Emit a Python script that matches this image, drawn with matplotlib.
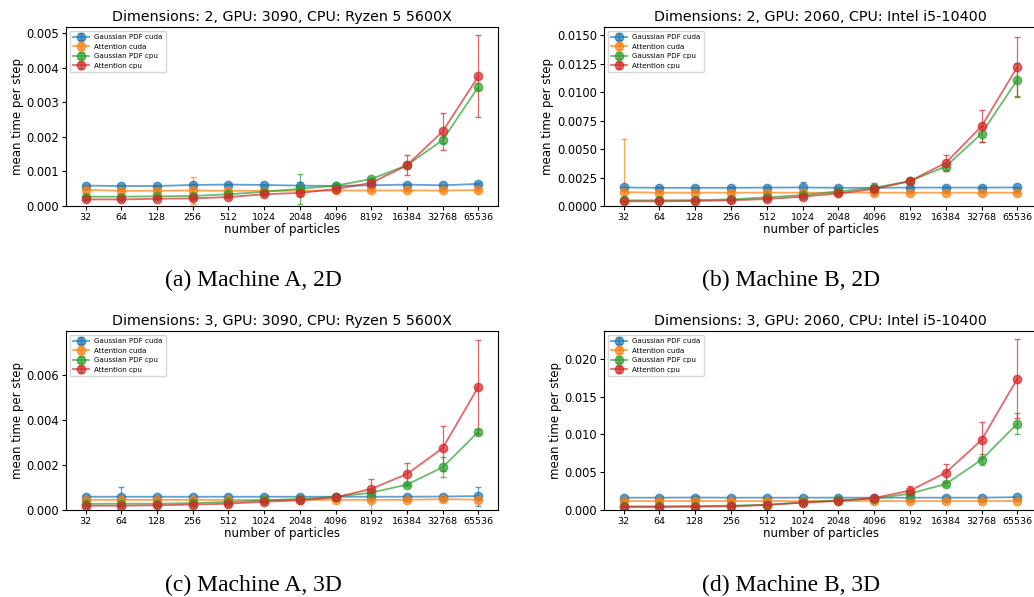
import matplotlib
matplotlib.use('Agg')
from matplotlib import pyplot as plt

particles = ['32', '64', '128', '256', '512', '1024', '2048', '4096',
             '8192', '16384', '32768', '65536']
series_names = ['Gaussian PDF cuda', 'Attention cuda', 'Gaussian PDF cpu', 'Attention cpu']

titles = ['Dimensions: 2, GPU: 3090, CPU: Ryzen 5 5600X',
          'Dimensions: 2, GPU: 2060, CPU: Intel i5-10400',
          'Dimensions: 3, GPU: 3090, CPU: Ryzen 5 5600X',
          'Dimensions: 3, GPU: 2060, CPU: Intel i5-10400']
captions = ['(a) Machine A, 2D', '(b) Machine B, 2D',
            '(c) Machine A, 3D', '(d) Machine B, 3D']

# Machine A, 2D
blue_a = [0.00059, 0.00058, 0.00058, 0.00061, 0.00062, 0.00061, 0.00059, 0.00058, 0.00060, 0.00062, 0.00060, 0.00064]
blue_a_err = [0.00002, 0.00002, 0.00002, 0.00003, 0.00002, 0.00002, 0.00010, 0.00002, 0.00002, 0.00002, 0.00002, 0.00003]
orange_a = [0.00047, 0.00044, 0.00044, 0.00045, 0.00044, 0.00044, 0.00044, 0.00045, 0.00045, 0.00045, 0.00045, 0.00046]
orange_a_err = [0.00002, 0.00002, 0.00002, 0.00040, 0.00002, 0.00002, 0.00002, 0.00002, 0.00002, 0.00002, 0.00002, 0.00002]
green_a = [0.00027, 0.00027, 0.00028, 0.00029, 0.00034, 0.00041, 0.00050, 0.00059, 0.00078, 0.00118, 0.00191, 0.00345]
green_a_err = [0.00002, 0.00002, 0.00002, 0.00002, 0.00002, 0.00003, 0.00043, 0.00003, 0.00004, 0.00005, 0.00008, 0.00010]
red_a = [0.00019, 0.00019, 0.00021, 0.00022, 0.00026, 0.00034, 0.00038, 0.00049, 0.00067, 0.00118, 0.00216, 0.00376]
red_a_err = [0.00002, 0.00002, 0.00002, 0.00003, 0.00002, 0.00003, 0.00008, 0.00003, 0.00005, 0.00029, 0.00053, 0.00118]

# Machine B, 2D
blue_b = [0.00163, 0.00160, 0.00160, 0.00160, 0.00162, 0.00163, 0.00160, 0.00160, 0.00162, 0.00162, 0.00162, 0.00163]
blue_b_err = [0.00003, 0.00003, 0.00003, 0.00003, 0.00005, 0.00045, 0.00003, 0.00003, 0.00003, 0.00003, 0.00003, 0.00003]
orange_b = [0.00122, 0.00117, 0.00117, 0.00117, 0.00117, 0.00117, 0.00117, 0.00117, 0.00117, 0.00117, 0.00117, 0.00117]
orange_b_err = [0.00470, 0.00003, 0.00003, 0.00003, 0.00003, 0.00003, 0.00003, 0.00003, 0.00003, 0.00003, 0.00003, 0.00003]
green_b = [0.00050, 0.00050, 0.00052, 0.00058, 0.00076, 0.00096, 0.00128, 0.00160, 0.00219, 0.00347, 0.00636, 0.01110]
green_b_err = [0.00003, 0.00003, 0.00003, 0.00003, 0.00003, 0.00005, 0.00005, 0.00010, 0.00030, 0.00030, 0.00070, 0.00145]
red_b = [0.00041, 0.00041, 0.00044, 0.00050, 0.00061, 0.00082, 0.00111, 0.00149, 0.00219, 0.00379, 0.00700, 0.01222]
red_b_err = [0.00003, 0.00003, 0.00003, 0.00003, 0.00003, 0.00005, 0.00005, 0.00050, 0.00030, 0.00067, 0.00140, 0.00260]

# Machine A, 3D
blue_c = [0.00059, 0.00059, 0.00059, 0.00059, 0.00059, 0.00059, 0.00059, 0.00059, 0.00059, 0.00059, 0.00060, 0.00062]
blue_c_err = [0.00002, 0.00042, 0.00002, 0.00002, 0.00002, 0.00002, 0.00002, 0.00002, 0.00002, 0.00002, 0.00002, 0.00042]
orange_c = [0.00045, 0.00045, 0.00045, 0.00045, 0.00045, 0.00045, 0.00045, 0.00045, 0.00045, 0.00045, 0.00048, 0.00046]
orange_c_err = [0.00002, 0.00002, 0.00002, 0.00002, 0.00002, 0.00002, 0.00002, 0.00002, 0.00047, 0.00002, 0.00003, 0.00002]
green_c = [0.00027, 0.00028, 0.00028, 0.00031, 0.00036, 0.00043, 0.00049, 0.00059, 0.00077, 0.00113, 0.00190, 0.00348]
green_c_err = [0.00002, 0.00002, 0.00002, 0.00002, 0.00002, 0.00003, 0.00003, 0.00003, 0.00004, 0.00005, 0.00045, 0.00010]
red_c = [0.00019, 0.00019, 0.00021, 0.00024, 0.00028, 0.00037, 0.00043, 0.00056, 0.00094, 0.00160, 0.00275, 0.00548]
red_c_err = [0.00002, 0.00002, 0.00002, 0.00002, 0.00002, 0.00003, 0.00003, 0.00004, 0.00046, 0.00047, 0.00100, 0.00210]

# Machine B, 3D
blue_d = [0.00163, 0.00163, 0.00165, 0.00163, 0.00163, 0.00163, 0.00163, 0.00163, 0.00163, 0.00163, 0.00163, 0.00170]
blue_d_err = [0.00003, 0.00003, 0.00020, 0.00003, 0.00003, 0.00003, 0.00003, 0.00003, 0.00003, 0.00003, 0.00003, 0.00005]
orange_d = [0.00119, 0.00119, 0.00119, 0.00119, 0.00119, 0.00119, 0.00119, 0.00119, 0.00119, 0.00119, 0.00119, 0.00119]
orange_d_err = [0.00003, 0.00003, 0.00003, 0.00003, 0.00003, 0.00003, 0.00003, 0.00003, 0.00003, 0.00003, 0.00003, 0.00003]
green_d = [0.00048, 0.00048, 0.00053, 0.00057, 0.00070, 0.00101, 0.00128, 0.00150, 0.00216, 0.00344, 0.00665, 0.01141]
green_d_err = [0.00003, 0.00003, 0.00003, 0.00003, 0.00003, 0.00005, 0.00005, 0.00008, 0.00010, 0.00030, 0.00070, 0.00140]
red_d = [0.00040, 0.00040, 0.00044, 0.00048, 0.00066, 0.00097, 0.00119, 0.00159, 0.00256, 0.00493, 0.00925, 0.01736]
red_d_err = [0.00003, 0.00003, 0.00003, 0.00003, 0.00005, 0.00005, 0.00005, 0.00008, 0.00060, 0.00120, 0.00240, 0.00520]

panels = [
    [(blue_a, blue_a_err), (orange_a, orange_a_err), (green_a, green_a_err), (red_a, red_a_err)],
    [(blue_b, blue_b_err), (orange_b, orange_b_err), (green_b, green_b_err), (red_b, red_b_err)],
    [(blue_c, blue_c_err), (orange_c, orange_c_err), (green_c, green_c_err), (red_c, red_c_err)],
    [(blue_d, blue_d_err), (orange_d, orange_d_err), (green_d, green_d_err), (red_d, red_d_err)],
]

W, H = 1034, 597
fig = plt.figure(figsize=(W / 100, H / 100), dpi=100)

# axes boxes in pixels: left, top, right, bottom
boxes = [(66, 27, 498, 206), (604, 27, 1037, 206),
         (66, 331, 498, 510), (604, 331, 1037, 510)]
caption_pos = [(253, 280), (791, 280), (253, 585), (791, 585)]
colors = ['C0', 'C1', 'C2', 'C3']

for i in range(4):
    l, t, r, b = boxes[i]
    ax = fig.add_axes([l / W, 1 - b / H, (r - l) / W, (b - t) / H])
    for (vals, errs), name, c in zip(panels[i], series_names, colors):
        ax.errorbar(particles, vals, yerr=errs, label=name, color=c, marker='o',
                    markersize=6, linewidth=1.3, elinewidth=0.9, capsize=2.5,
                    alpha=0.7)
    ax.set_ylim(bottom=0)
    ax.set_title(titles[i], fontsize=10.3, pad=4)
    ax.set_xlabel('number of particles', fontsize=8.5, labelpad=1)
    ax.set_ylabel('mean time per step', fontsize=8.5, labelpad=2)
    ax.tick_params(axis='x', labelsize=6.8, length=3, pad=2)
    ax.tick_params(axis='y', labelsize=8.3, length=3, pad=2)
    ax.legend(loc='upper left', fontsize=5.1, borderpad=0.5, handlelength=2.2)
    fig.text(caption_pos[i][0] / W, 1 - caption_pos[i][1] / H, captions[i],
             family='Liberation Serif', fontsize=17, ha='center', va='center')

fig.savefig('out.png', dpi=100)
